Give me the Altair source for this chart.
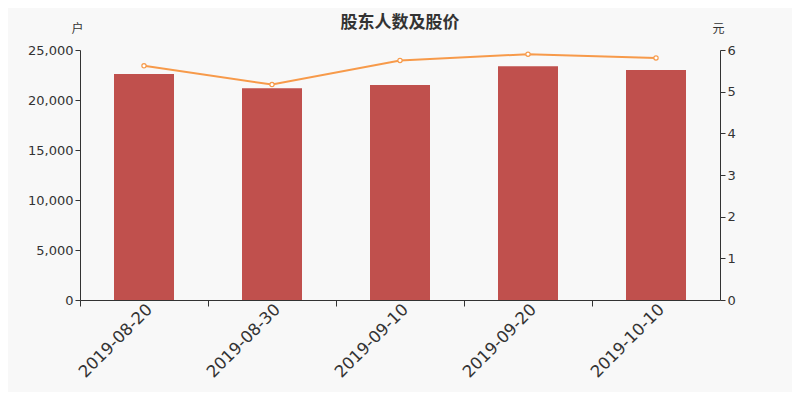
import altair as alt
import pandas as pd

dates = ["2019-08-20", "2019-08-30", "2019-09-10", "2019-09-20", "2019-10-10"]
holders = [22600, 21170, 21500, 23370, 23000]
prices = [5.62, 5.17, 5.75, 5.90, 5.81]

df = pd.DataFrame({"date": dates, "holders": holders, "price": prices})

FONT = "DejaVu Sans, Noto Sans CJK SC"
DARK = "#333333"

x_scale = alt.Scale(paddingInner=0, paddingOuter=0)

bars = alt.Chart(df).mark_bar(size=60, color="#c0504d").encode(
    x=alt.X(
        "date:N",
        sort=dates,
        scale=x_scale,
        axis=alt.Axis(
            orient="bottom",
            title=None,
            labelAngle=-45,
            labelAlign="right",
            labelBaseline="top",
            labelFontSize=16.5,
            labelColor=DARK,
            labelFont=FONT,
            labelPadding=1,
            ticks=False,
            domainColor=DARK,
            grid=False,
        ),
    ),
    y=alt.Y(
        "holders:Q",
        scale=alt.Scale(domain=[0, 25000]),
        axis=alt.Axis(
            title="户",
            titleAngle=0,
            titleX=-3,
            titleY=-22,
            titleAlign="center",
            titleBaseline="middle",
            titleFontSize=12,
            titleFontWeight="normal",
            titleColor=DARK,
            titleFont=FONT,
            values=[0, 5000, 10000, 15000, 20000, 25000],
            format=",.0f",
            labelFontSize=13,
            labelColor=DARK,
            labelFont=FONT,
            tickColor=DARK,
            domainColor=DARK,
            tickSize=5,
            grid=False,
        ),
    ),
)

line = alt.Chart(df).mark_line(
    color="#f79a4a",
    strokeWidth=2,
    point=alt.OverlayMarkDef(filled=True, fill="#ffffff", stroke="#f79a4a", strokeWidth=1.2, size=18),
).encode(
    x=alt.X(
        "date:N",
        sort=dates,
        scale=x_scale,
        axis=alt.Axis(
            orient="bottom",
            title=None,
            labels=False,
            bandPosition=0,
            tickSize=6,
            tickColor=DARK,
            domain=False,
            grid=False,
        ),
    ),
    y=alt.Y(
        "price:Q",
        scale=alt.Scale(domain=[0, 6]),
        axis=alt.Axis(
            orient="right",
            title="元",
            titleAngle=0,
            titleX=-2,
            titleY=-22,
            titleAlign="center",
            titleBaseline="middle",
            titleFontSize=12,
            titleFontWeight="normal",
            titleColor=DARK,
            titleFont=FONT,
            values=[0, 1, 2, 3, 4, 5, 6],
            labelFontSize=13,
            labelColor=DARK,
            labelFont=FONT,
            tickColor=DARK,
            domainColor=DARK,
            tickSize=5,
            grid=False,
        ),
    ),
)

chart = (
    alt.layer(bars, line)
    .resolve_scale(y="independent")
    .resolve_axis(x="independent")
    .properties(
        width=640,
        height=250,
        background="#f8f8f8",
        padding={"left": 72, "top": 42, "right": 72, "bottom": 92},
        autosize=alt.AutoSizeParams(type="none"),
        title=alt.TitleParams(
            "股东人数及股价",
            fontSize=17,
            fontWeight="bold",
            color=DARK,
            font=FONT,
            anchor="middle",
            offset=-10,
        ),
    )
    .configure_view(stroke=None)
)

chart.save("out.html", embed_options={"renderer": "svg", "actions": False})
